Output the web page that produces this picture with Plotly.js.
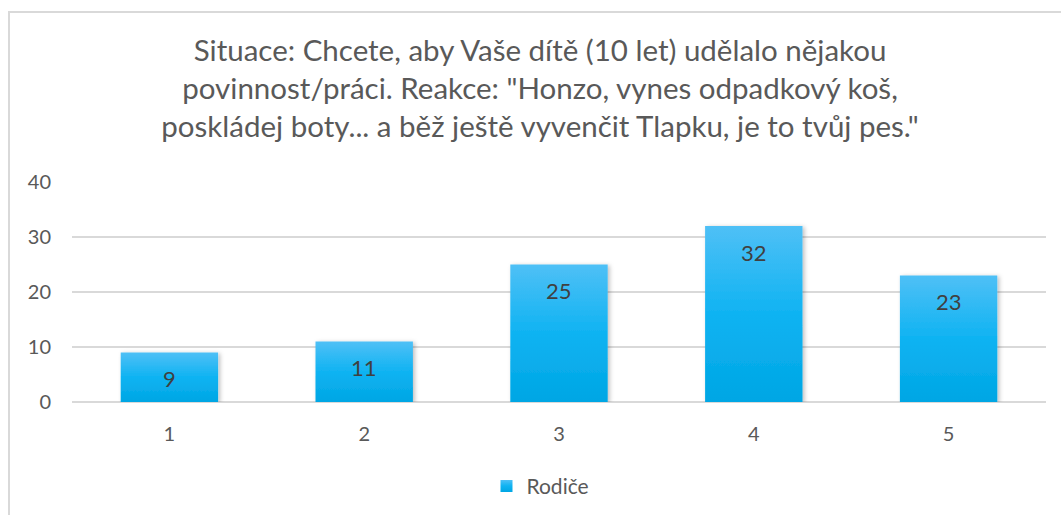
<!DOCTYPE html>
<html><head><meta charset="utf-8">
<script src="https://cdn.plot.ly/plotly-3.0.1.min.js"></script>
<style>
html,body{margin:0;padding:0;background:#fff;}
#frame{position:absolute;left:8px;top:11px;width:1100px;height:600px;border-left:2px solid #d9d9d9;border-top:2px solid #d9d9d9;box-sizing:border-box;pointer-events:none;z-index:5;}
#chart{position:absolute;left:0;top:0;width:1061px;height:515px;}
</style></head>
<body>
<div id="chart"></div>
<div id="frame"></div>
<script>
const categories = ['1','2','3','4','5'];
const values = [9, 11, 25, 32, 23];
const seriesName = 'Rodiče';
const titleText = 'Situace: Chcete, aby Vaše dítě (10 let) udělalo nějakou<br>povinnost/práci. Reakce: "Honzo, vynes odpadkový koš,<br>poskládej boty... a běž ještě vyvenčit Tlapku, je to tvůj pes."';
const yTicks = [0, 10, 20, 30, 40];

const font = 'Lato, "Open Sans", sans-serif';

const trace = {
  type: 'bar', x: categories, y: values, name: seriesName,
  marker: {color: '#17b2f1', line: {width: 0}},
  hoverinfo: 'none'
};

const annotations = categories.map((c, i) => ({
  x: i, y: values[i], xref: 'x', yref: 'y', text: String(values[i]),
  showarrow: false, yanchor: 'middle', yshift: -26,
  font: {family: font, size: 22, color: '#404040'}
}));

const layout = {
  width: 1061, height: 515,
  margin: {l: 72, r: 15, t: 182, b: 113, autoexpand: false},
  paper_bgcolor: '#fff', plot_bgcolor: '#fff',
  title: {text: titleText, x: 0.509, xanchor: 'center', yref: 'container', y: 0.882, yanchor: 'top',
          font: {family: font, size: 29.5, color: '#595959'}},
  bargap: 0.5,
  showlegend: true,
  legend: {orientation: 'h', x: 0.481, xanchor: 'center', y: -0.29, yanchor: 'top',
           font: {family: font, size: 21, color: '#595959'}},
  xaxis: {type: 'category', showgrid: false, showline: false, zeroline: false, ticks: '',
          tickfont: {family: font, size: 20, color: '#595959'}, ticklabelstandoff: 18, automargin: false},
  yaxis: {range: [0, 40], tickvals: yTicks, showgrid: true, gridcolor: '#d9d9d9', gridwidth: 1.5,
          zeroline: true, zerolinecolor: '#d9d9d9', zerolinewidth: 1.5, showline: false, ticks: '',
          tickfont: {family: font, size: 20, color: '#595959'}, ticklabelstandoff: 20, automargin: false},
  annotations: annotations
};

function applyGradient(gd) {
  const svg = gd.querySelector('svg.main-svg');
  if (!svg) return;
  const NS = 'http://www.w3.org/2000/svg';
  let defs = svg.querySelector('defs');
  if (!defs) { defs = document.createElementNS(NS, 'defs'); svg.insertBefore(defs, svg.firstChild); }
  if (!defs.querySelector('#barGrad')) {
    const g = document.createElementNS(NS, 'linearGradient');
    g.setAttribute('id', 'barGrad'); g.setAttribute('x1', '0'); g.setAttribute('y1', '0');
    g.setAttribute('x2', '0'); g.setAttribute('y2', '1');
    [['0', '#4fc0f6'], ['0.5', '#0fb3f2'], ['1', '#00a6e4']].forEach(([o, c]) => {
      const s = document.createElementNS(NS, 'stop'); s.setAttribute('offset', o); s.setAttribute('stop-color', c); g.appendChild(s);
    });
    defs.appendChild(g);
    const f = document.createElementNS(NS, 'filter');
    f.setAttribute('id', 'barShadow'); f.setAttribute('x', '-20%'); f.setAttribute('y', '-20%');
    f.setAttribute('width', '140%'); f.setAttribute('height', '140%');
    const ds = document.createElementNS(NS, 'feDropShadow');
    ds.setAttribute('dx', '2'); ds.setAttribute('dy', '1'); ds.setAttribute('stdDeviation', '2');
    ds.setAttribute('flood-color', '#000'); ds.setAttribute('flood-opacity', '0.25');
    f.appendChild(ds); defs.appendChild(f);
  }
  gd.querySelectorAll('.barlayer .point path').forEach(p => {
    p.style.fill = 'url(#barGrad)';
    p.setAttribute('filter', 'url(#barShadow)');
  });
  gd.querySelectorAll('.legend .legendpoints path').forEach(p => { p.style.fill = 'url(#barGrad)'; });
}

Plotly.newPlot('chart', [trace], layout, {displayModeBar: false, staticPlot: true}).then(applyGradient);
</script>
</body></html>
